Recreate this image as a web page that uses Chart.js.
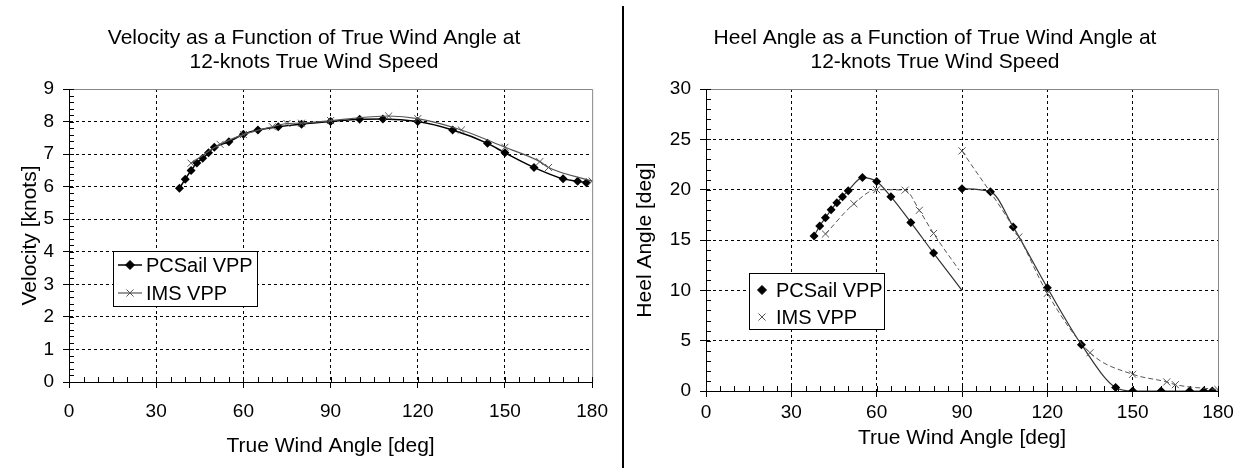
<!DOCTYPE html>
<html>
<head>
<meta charset="utf-8">
<script src="https://cdn.jsdelivr.net/npm/chart.js@4.4.1/dist/chart.umd.min.js"></script>
<style>
  body { margin: 0; background: #fff; width: 1245px; height: 468px; position: relative; overflow: hidden; }
  #velWrap { position: absolute; left: 0; top: 0; width: 620px; height: 468px; }
  #heelWrap { position: absolute; left: 625px; top: 0; width: 620px; height: 468px; }
  #divider { position: absolute; left: 622px; top: 6px; width: 2px; height: 462px; background: #000; }
</style>
</head>
<body>
<div id="velWrap"><canvas id="velChart" width="620" height="468"></canvas></div>
<div id="divider"></div>
<div id="heelWrap"><canvas id="heelChart" width="620" height="468"></canvas></div>
<script>
// velocity vs true wind angle
const velPcAngles = [38, 40, 42, 44, 46, 48, 50, 55, 60, 65, 72, 80, 90, 100, 108, 120, 132, 144, 150, 160, 170, 175, 178];
const velPcKnots = [5.95, 6.23, 6.50, 6.73, 6.87, 7.04, 7.21, 7.38, 7.61, 7.74, 7.84, 7.92, 8.00, 8.07, 8.08, 8.00, 7.74, 7.33, 7.04, 6.59, 6.24, 6.17, 6.12];
const velImsAngles = [42, 52, 60, 70, 75, 80, 90, 110, 120, 135, 150, 162, 165, 180];
const velImsKnots = [6.72, 7.30, 7.60, 7.84, 7.94, 7.95, 8.03, 8.17, 8.09, 7.74, 7.21, 6.77, 6.59, 6.17];

// heel vs true wind angle (two branches each)
const heelPcAngles1 = [38, 40, 42, 44, 46, 48, 50, 55, 60, 65, 72, 80, 90];
const heelPcDeg1 = [15.4, 16.4, 17.2, 18.0, 18.7, 19.3, 19.9, 21.2, 20.8, 19.3, 16.75, 13.7, 10.0];
const heelPcAngles2 = [90, 100, 108, 120, 132, 144, 150, 160, 170, 175, 178];
const heelPcDeg2 = [20.1, 19.8, 16.3, 10.25, 4.6, 0.35, 0, 0, 0, 0, 0];
const heelImsAngles1 = [42, 52, 60, 70, 75, 80, 89];
const heelImsDeg1 = [15.6, 18.6, 20.0, 19.95, 17.95, 15.65, 12.0];
const heelImsAngles2 = [90, 110, 120, 135, 150, 162, 165, 180];
const heelImsDeg2 = [23.85, 15.3, 9.7, 3.8, 1.66, 0.9, 0.63, 0.14];

const xTicks = [0, 30, 60, 90, 120, 150, 180];
const seriesNames = ['PCSail VPP', 'IMS VPP'];
const velTitle = ['Velocity as a Function of True Wind Angle at', '12-knots True Wind Speed'];
const heelTitle = ['Heel Angle as a Function of True Wind Angle at', '12-knots True Wind Speed'];

const FONT = "'Liberation Sans', Arial, sans-serif";
Chart.defaults.font.family = FONT;
Chart.defaults.color = '#000';

function pts(xs, ys) {
    return xs.map((x, i) => ({ x, y: ys[i] }));
}

// last point of a branch is only a line end, no marker
function noLastMarker(r) {
    return ctx => ctx.dataIndex === ctx.dataset.data.length - 1 ? 0 : r;
}

const frameAndTicks = {
    id: 'frameAndTicks',
    beforeDatasetsDraw(chart, args, opts) {
        const { ctx, chartArea: a, scales } = chart;
        ctx.save();
        ctx.strokeStyle = '#888';
        ctx.lineWidth = 1;
        ctx.beginPath();
        ctx.moveTo(a.left, a.top + 0.5);
        ctx.lineTo(a.right + 0.5, a.top + 0.5);
        ctx.lineTo(a.right + 0.5, a.bottom);
        ctx.stroke();

        ctx.strokeStyle = '#000';
        ctx.beginPath();
        const xs = scales.x;
        for (let v = xs.min; v <= xs.max + 1e-6; v += opts.xMinor) {
            const px = Math.round(xs.getPixelForValue(v)) + 0.5;
            ctx.moveTo(px, a.bottom);
            ctx.lineTo(px, a.bottom - 5);
        }
        const ys = scales.y;
        for (let v = ys.min; v <= ys.max + 1e-6; v += opts.yMinor) {
            const py = Math.round(ys.getPixelForValue(v)) + 0.5;
            ctx.moveTo(a.left, py);
            ctx.lineTo(a.left + 5, py);
        }
        ctx.stroke();
        ctx.restore();
    }
};

const twoLineTitle = {
    id: 'twoLineTitle',
    afterDraw(chart, args, o) {
        const ctx = chart.ctx;
        ctx.save();
        ctx.font = '21px ' + FONT;
        ctx.fillStyle = '#000';
        ctx.textAlign = 'center';
        ctx.textBaseline = 'middle';
        o.lines.forEach((t, i) => ctx.fillText(t, o.cx, o.y + i * 24));
        ctx.restore();
    }
};

const boxLegend = {
    id: 'boxLegend',
    afterDraw(chart, args, o) {
        const ctx = chart.ctx;
        ctx.save();
        ctx.fillStyle = '#fff';
        ctx.fillRect(o.x, o.y, o.w, o.h);
        ctx.strokeStyle = '#000';
        ctx.lineWidth = 1;
        ctx.strokeRect(o.x + 0.5, o.y + 0.5, o.w, o.h);
        ctx.font = '20px ' + FONT;
        ctx.textBaseline = 'middle';
        o.items.forEach((it, i) => {
            const cy = o.y + o.firstRow + i * o.rowGap;
            ctx.strokeStyle = it.color;
            ctx.fillStyle = it.color;
            if (o.showLine) {
                ctx.lineWidth = it.lineWidth;
                ctx.beginPath();
                ctx.moveTo(o.x + o.markerX - 12, cy);
                ctx.lineTo(o.x + o.markerX + 12, cy);
                ctx.stroke();
            }
            ctx.lineWidth = 1;
            Chart.helpers.drawPoint(ctx, { pointStyle: it.pointStyle, radius: it.radius, rotation: 0, borderWidth: 1 }, o.x + o.markerX, cy);
            ctx.fillStyle = '#000';
            ctx.fillText(seriesNames[i], o.x + o.textX, cy + 1);
        });
        ctx.restore();
    }
};

function axes(yMax, yStep, yTitle, yTitlePad, yWidth, xHeight, xTickPad, xTitlePad) {
    const gridColor = (edge) => ctx => (ctx.tick && ctx.tick.value === edge) ? 'rgba(0,0,0,0)' : '#000';
    return {
        x: {
            type: 'linear', min: 0, max: 180,
            afterBuildTicks: s => { s.ticks = xTicks.map(v => ({ value: v })); },
            afterFit: s => { s.height = xHeight; },
            ticks: { font: { size: 19 }, padding: xTickPad, maxRotation: 0, color: '#000' },
            grid: { color: gridColor(180), tickColor: '#000', tickLength: 6, lineWidth: 1 },
            border: { color: '#000', width: 1, dash: [3, 3] },
            title: { display: true, text: 'True Wind Angle [deg]', font: { size: 21 }, padding: { top: 0, bottom: xTitlePad } }
        },
        y: {
            min: 0, max: yMax,
            afterFit: s => { s.width = yWidth; },
            ticks: { stepSize: yStep, font: { size: 19 }, padding: 9, color: '#000' },
            grid: { color: gridColor(yMax), tickColor: '#000', tickLength: 6, lineWidth: 1 },
            border: { color: '#000', width: 1, dash: [3, 3] },
            title: { display: true, text: yTitle, font: { size: 21 }, padding: { top: yTitlePad, bottom: 0 } }
        }
    };
}

new Chart(document.getElementById('velChart'), {
    type: 'scatter',
    data: {
        datasets: [
            {
                data: pts(velImsAngles, velImsKnots), showLine: true,
                borderColor: '#555', backgroundColor: '#555', borderWidth: 1.2,
                pointStyle: 'crossRot', pointRadius: 5, pointBorderWidth: 1,
                cubicInterpolationMode: 'monotone'
            },
            {
                data: pts(velPcAngles, velPcKnots), showLine: true,
                borderColor: '#000', backgroundColor: '#000', borderWidth: 1.5,
                pointStyle: 'rectRot', pointRadius: 4.5, pointBorderWidth: 0,
                cubicInterpolationMode: 'monotone'
            }
        ]
    },
    options: {
        responsive: false, animation: false, devicePixelRatio: 1,
        layout: { padding: { left: 0, right: 27, top: 89, bottom: 0 } },
        scales: axes(9, 1, 'Velocity [knots]', 18, 69, 86, 12, 9),
        plugins: {
            legend: { display: false },
            tooltip: { enabled: false },
            twoLineTitle: { lines: velTitle, cx: 314, y: 38 },
            frameAndTicks: { xMinor: 5, yMinor: 0.2 },
            boxLegend: {
                x: 113, y: 251, w: 144, h: 55, firstRow: 14, rowGap: 28, markerX: 17, textX: 33, showLine: true,
                items: [
                    { color: '#000', pointStyle: 'rectRot', radius: 4.5, lineWidth: 1.5 },
                    { color: '#555', pointStyle: 'crossRot', radius: 5, lineWidth: 1.2 }
                ]
            }
        }
    },
    plugins: [frameAndTicks, twoLineTitle, boxLegend]
});

new Chart(document.getElementById('heelChart'), {
    type: 'scatter',
    data: {
        datasets: [
            {
                data: pts(heelImsAngles1, heelImsDeg1), showLine: true,
                borderColor: '#555', backgroundColor: '#555', borderWidth: 1, borderDash: [5, 3],
                pointStyle: 'crossRot', pointRadius: noLastMarker(5), pointBorderWidth: 1,
                cubicInterpolationMode: 'monotone'
            },
            {
                data: pts(heelImsAngles2, heelImsDeg2), showLine: true,
                borderColor: '#555', backgroundColor: '#555', borderWidth: 1, borderDash: [5, 3],
                pointStyle: 'crossRot', pointRadius: 5, pointBorderWidth: 1,
                cubicInterpolationMode: 'monotone'
            },
            {
                data: pts(heelPcAngles1, heelPcDeg1), showLine: true,
                borderColor: '#333', backgroundColor: '#000', borderWidth: 1.2,
                pointStyle: 'rectRot', pointRadius: noLastMarker(4.5), pointBorderWidth: 0,
                cubicInterpolationMode: 'monotone'
            },
            {
                data: pts(heelPcAngles2, heelPcDeg2), showLine: true,
                borderColor: '#333', backgroundColor: '#000', borderWidth: 1.2,
                pointStyle: 'rectRot', pointRadius: 4.5, pointBorderWidth: 0,
                cubicInterpolationMode: 'monotone'
            }
        ]
    },
    options: {
        responsive: false, animation: false, devicePixelRatio: 1,
        layout: { padding: { left: 0, right: 27, top: 89, bottom: 0 } },
        scales: axes(30, 5, 'Heel Angle [deg]', 8, 81, 77, 4, 17),
        plugins: {
            legend: { display: false },
            tooltip: { enabled: false },
            twoLineTitle: { lines: heelTitle, cx: 310, y: 38 },
            frameAndTicks: { xMinor: 5, yMinor: 1 },
            boxLegend: {
                x: 124, y: 273, w: 135, h: 56, firstRow: 17, rowGap: 27, markerX: 13, textX: 27, showLine: false,
                items: [
                    { color: '#000', pointStyle: 'rectRot', radius: 4.5, lineWidth: 1 },
                    { color: '#555', pointStyle: 'crossRot', radius: 5, lineWidth: 1 }
                ]
            }
        }
    },
    plugins: [frameAndTicks, twoLineTitle, boxLegend]
});
</script>
</body>
</html>
